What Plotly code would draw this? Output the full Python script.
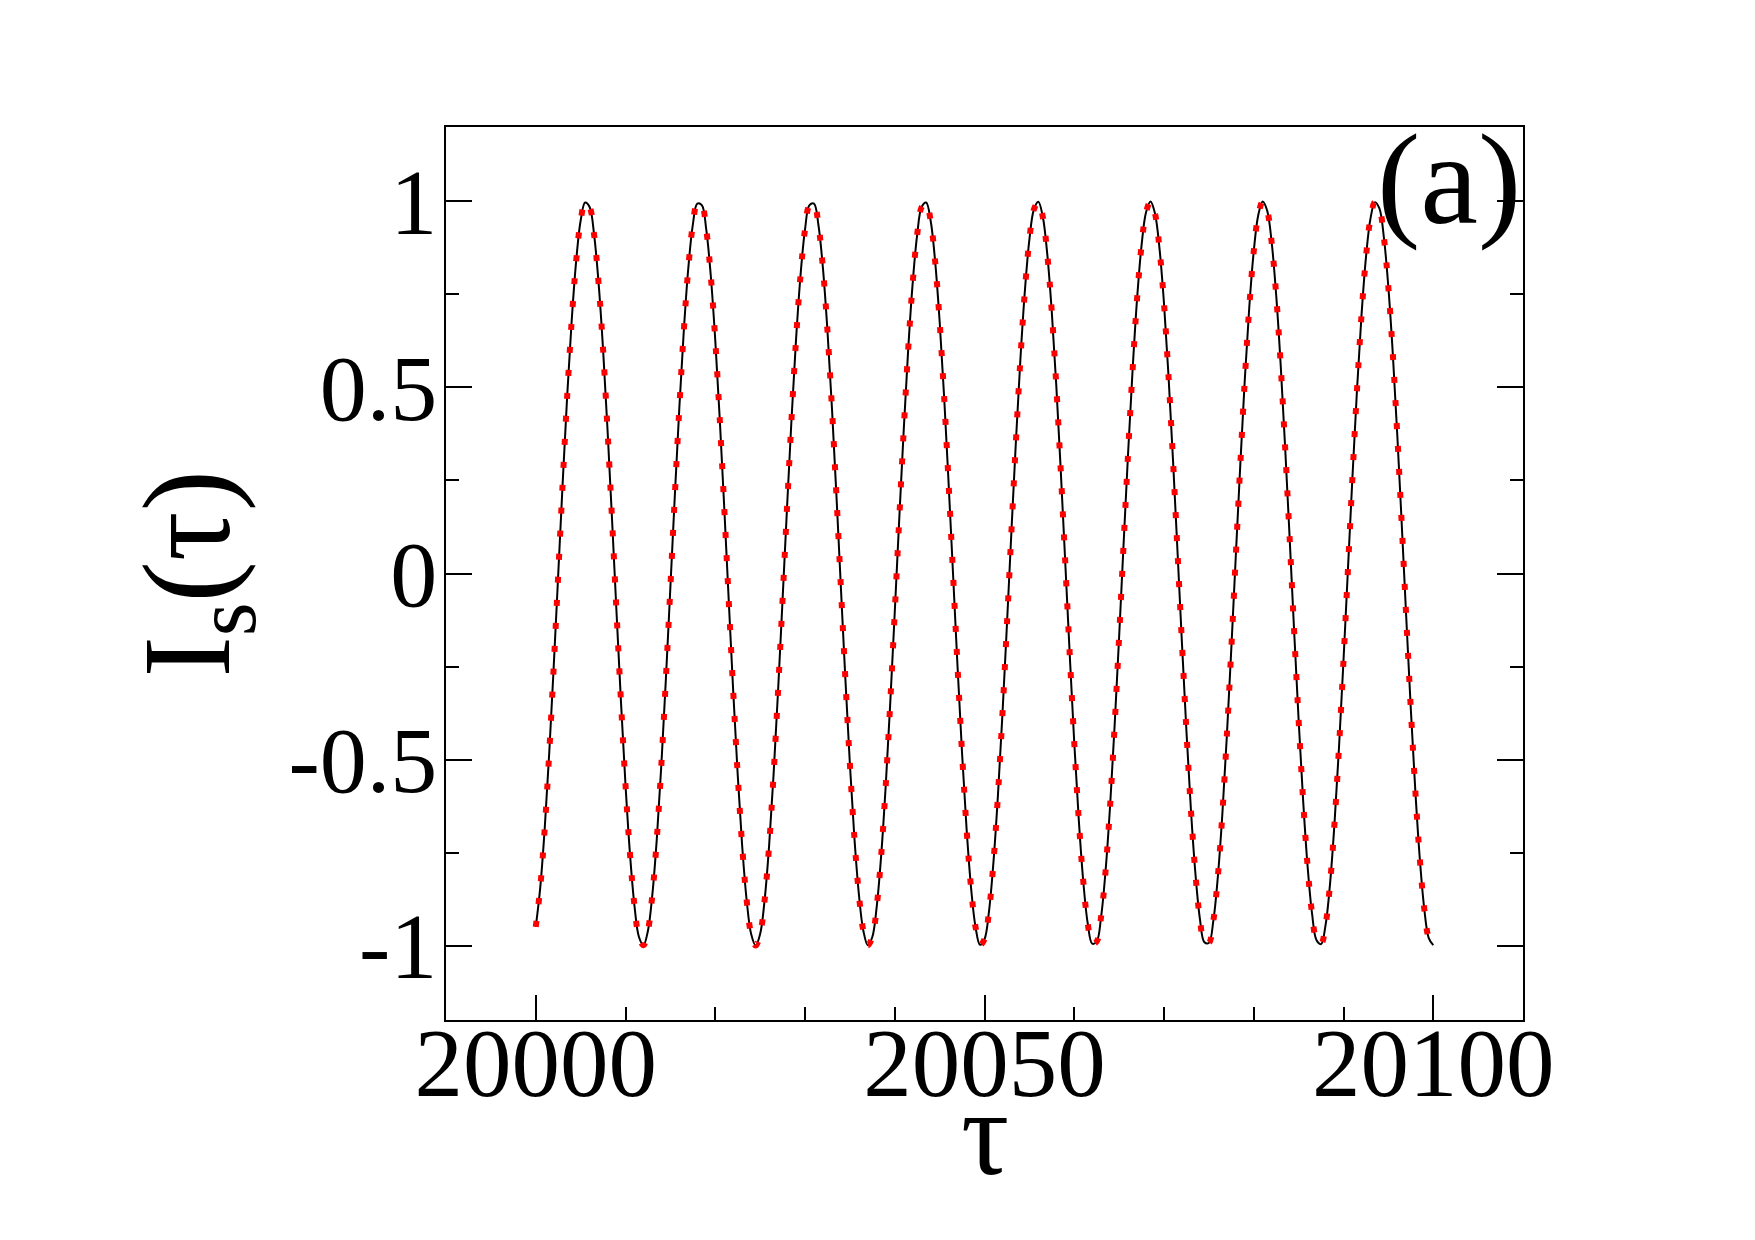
import plotly.graph_objects as go

# tau grid (half-unit steps from 20000 to 20100)
tau = [20000 + 0.5 * i for i in range(201)]

# I_s(tau), one value per tau above
I_s_solid = [
    -0.950, -0.844, -0.685, -0.483, -0.251, -0.004, 0.243, 0.476, 0.678, 0.839,
    0.948, 0.997, 0.985, 0.911, 0.781, 0.603, 0.385, 0.145, -0.104, -0.347,
    -0.568, -0.754, -0.893, -0.977, -0.999, -0.960, -0.861, -0.709, -0.512, -0.283,
    -0.037, 0.211, 0.446, 0.654, 0.821, 0.937, 0.994, 0.990, 0.924, 0.801,
    0.628, 0.416, 0.178, -0.071, -0.316, -0.540, -0.732, -0.878, -0.969, -1.000,
    -0.969, -0.878, -0.732, -0.540, -0.315, -0.071, 0.178, 0.416, 0.628, 0.801,
    0.924, 0.990, 0.994, 0.936, 0.820, 0.653, 0.446, 0.211, -0.038, -0.284,
    -0.512, -0.709, -0.861, -0.960, -0.999, -0.977, -0.893, -0.754, -0.568, -0.347,
    -0.104, 0.146, 0.386, 0.603, 0.781, 0.911, 0.985, 0.997, 0.948, 0.839,
    0.678, 0.476, 0.243, -0.004, -0.252, -0.483, -0.685, -0.844, -0.950, -0.998,
    -0.983, -0.908, -0.775, -0.595, -0.378, -0.137, 0.113, 0.355, 0.576, 0.760,
    0.897, 0.978, 0.999, 0.958, 0.857, 0.702, 0.505, 0.275, 0.029, -0.219,
    -0.454, -0.660, -0.826, -0.940, -0.995, -0.989, -0.921, -0.796, -0.622, -0.408,
    -0.170, 0.080, 0.324, 0.547, 0.738, 0.882, 0.971, 1.000, 0.967, 0.873,
    0.726, 0.532, 0.306, 0.062, -0.187, -0.424, -0.635, -0.806, -0.928, -0.991,
    -0.993, -0.933, -0.815, -0.647, -0.438, -0.202, 0.047, 0.292, 0.520, 0.715,
    0.866, 0.963, 1.000, 0.975, 0.889, 0.748, 0.561, 0.338, 0.095, -0.155,
    -0.394, -0.609, -0.787, -0.915, -0.986, -0.996, -0.945, -0.834, -0.671, -0.467,
    -0.234, 0.014, 0.261, 0.492, 0.692, 0.849, 0.953, 0.998, 0.981, 0.903,
    0.769, 0.588, 0.369, 0.127, -0.122, -0.364, -0.583, -0.766, -0.901, -0.980,
    -0.999,
]

# I_s(tau) (coincides with the solid one)
I_s_dotted = list(I_s_solid)

x_tick_vals = [20000, 20050, 20100]
x_tick_text = ["20000", "20050", "20100"]
y_tick_vals = [-1, -0.5, 0, 0.5, 1]
y_tick_text = ["-1", "-0.5", "0", "0.5", "1"]

FONT = "Liberation Serif"

fig = go.Figure()
fig.add_trace(go.Scatter(
    x=tau, y=I_s_solid, mode="lines", line_shape="spline",
    line=dict(color="black", width=2), showlegend=False,
))
fig.add_trace(go.Scatter(
    x=tau, y=I_s_dotted, mode="lines", line_shape="spline",
    line=dict(color="#ff0000", width=6, dash="6px,17px"), showlegend=False,
))

fig.update_layout(
    width=1755, height=1240,
    margin=dict(l=446, r=232, t=127, b=220),
    paper_bgcolor="white", plot_bgcolor="white",
    font=dict(family=FONT, color="black"),
    xaxis=dict(
        range=[19990, 20110], showgrid=False, zeroline=False,
        showline=True, linecolor="black", linewidth=2, mirror=True,
        ticks="inside", ticklen=25, tickwidth=2, tickcolor="black",
        tickvals=x_tick_vals, ticktext=x_tick_text,
        tickfont=dict(family=FONT, size=97, color="black"),
        ticklabelstandoff=-42,
        minor=dict(ticks="inside", ticklen=13, tickwidth=2, tickcolor="black",
                   dtick=10, tick0=20000, showgrid=False),
    ),
    yaxis=dict(
        range=[-1.2, 1.2], showgrid=False, zeroline=False,
        showline=True, linecolor="black", linewidth=2, mirror="ticks",
        ticks="inside", ticklen=26, tickwidth=2, tickcolor="black",
        tickvals=y_tick_vals, ticktext=y_tick_text,
        tickfont=dict(family=FONT, size=94, color="black"),
        ticklabelstandoff=-12,
        minor=dict(ticks="inside", ticklen=13, tickwidth=2, tickcolor="black",
                   dtick=0.25, tick0=0, showgrid=False),
    ),
)

fig.add_annotation(
    text="I<sub>s</sub>(τ)", textangle=-90,
    xref="paper", yref="y", x=0, y=0, xanchor="center", yanchor="middle",
    xshift=-250, showarrow=False,
    font=dict(family=FONT, size=124, color="black"),
)
fig.add_annotation(
    text="τ", xref="paper", yref="paper", x=0.5, y=0,
    xanchor="center", yanchor="middle", yshift=-113, showarrow=False,
    font=dict(family=FONT, size=120, color="black"),
)
fig.add_annotation(
    text="(a)", xref="paper", yref="paper", x=1, y=1,
    xanchor="right", yanchor="top", xshift=0, yshift=22, showarrow=False,
    font=dict(family=FONT, size=130, color="black"),
)

fig.write_html("out.html")
